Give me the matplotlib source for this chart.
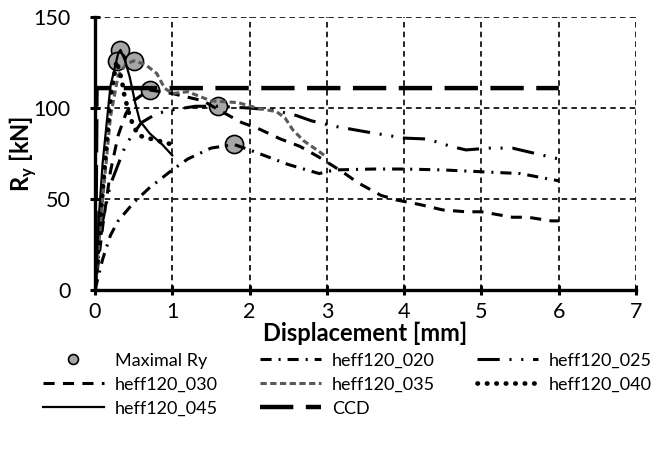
import matplotlib
matplotlib.use("Agg")
import matplotlib.pyplot as plt

plt.rcParams['font.family'] = ['Lato', 'DejaVu Sans']
plt.rcParams['mathtext.fontset'] = 'custom'
plt.rcParams['mathtext.rm'] = 'Lato'
plt.rcParams['mathtext.bf'] = 'Lato:bold'
plt.rcParams['lines.scale_dashes'] = False

# peak points
max_x = [0.33, 0.28, 0.50, 0.71, 1.59, 1.80]
max_y = [132, 126, 126, 110, 101, 80]

x020 = [0, 0.1, 0.2, 0.3, 0.5, 0.7, 1.0, 1.2, 1.5, 1.8, 2.0, 2.5, 2.9, 3.1, 3.6, 4.0, 4.5, 5.0, 5.5, 6.0]
y020 = [0, 17, 30, 38, 48, 56, 66, 72, 78, 80, 77, 69, 64, 66, 66.5, 66.5, 66, 65, 64, 60]

x025 = [0, 0.05, 0.1, 0.2, 0.4, 0.6, 0.8, 1.0, 1.3, 1.6, 2.0, 2.3, 2.6, 2.8, 3.1, 3.5, 4.0, 4.3,
        4.6, 4.8, 5.1, 5.4, 5.6, 5.9, 6.0]
y025 = [0, 20, 38, 58, 80, 92, 97, 99, 101, 101, 100, 99, 96, 93, 90, 87, 83.5, 83, 79, 77,
        78, 78, 76, 73, 72]

x030 = [0, 0.1, 0.2, 0.3, 0.4, 0.5, 0.7, 1.0, 1.4, 1.6, 1.9, 2.1, 2.4, 2.65, 2.9, 3.2, 3.4,
        3.7, 3.9, 4.2, 4.5, 4.8, 5.0, 5.4, 5.6, 5.9, 6.0]
y030 = [0, 35, 65, 85, 97, 104, 110, 108, 104, 99, 92, 89, 83, 79, 73, 65, 59, 52, 49.5, 47,
        44, 43, 43, 40, 40, 38, 38]

x035 = [0, 0.1, 0.2, 0.3, 0.4, 0.5, 0.65, 0.8, 0.9, 1.0, 1.2, 1.5, 1.85, 2.1, 2.35, 2.46,
        2.56, 2.7, 2.87, 3.0]
y035 = [0, 50, 95, 118, 124, 126, 124, 119, 111, 108, 109, 104, 103, 100, 98, 94.5, 88, 82,
        77, 73]

x040 = [0, 0.1, 0.2, 0.28, 0.35, 0.37, 0.44, 0.49, 0.56, 0.69, 0.82, 1.0]
y040 = [0, 55, 105, 126, 115, 109, 97, 91, 85, 83.5, 82, 80]

x045 = [0, 0.05, 0.1, 0.2, 0.3, 0.33, 0.39, 0.45, 0.52, 0.58, 0.71, 0.87, 1.0]
y045 = [0, 40, 70, 112, 130, 132, 126, 117, 103, 93, 86, 80, 74]

xccd = [0, 0.02, 6.0]
yccd = [0, 111, 111]

fig = plt.figure(figsize=(6.64, 4.51), dpi=100)
ax = fig.add_axes([0.143, 0.357, 0.815, 0.605])

h_max, = ax.plot(max_x, max_y, 'o', ms=13, mfc='#a6a6a6', mec='black', mew=1.2,
                 label='Maximal Ry', zorder=2)
h020, = ax.plot(x020, y020, color='black', lw=2.2, dashes=(8, 5, 1.5, 5), label='heff120_020', zorder=3)
h025, = ax.plot(x025, y025, color='black', lw=2.2, dashes=(16, 7, 1.5, 7, 1.5, 7), label='heff120_025', zorder=3)
h030, = ax.plot(x030, y030, color='black', lw=2.2, dashes=(8, 6), label='heff120_030', zorder=3)
h035, = ax.plot(x035, y035, color='#595959', lw=2.2, dashes=(4.5, 2.5), label='heff120_035', zorder=3)
h040, = ax.plot(x040, y040, color='black', lw=3.4, dashes=(0.3, 6.5), dash_capstyle='round',
                label='heff120_040', zorder=3)
h045, = ax.plot(x045, y045, color='black', lw=1.6, label='heff120_045', zorder=3)
hccd, = ax.plot(xccd, yccd, color='black', lw=3.2, dashes=(24, 9), label='CCD', zorder=3)

ax.set_xlim(0, 7)
ax.set_ylim(0, 150)
ax.set_xticks(range(0, 8))
ax.set_yticks([0, 50, 100, 150])
ax.grid(True, color='black', lw=1.2, linestyle=(0, (4, 3)))
ax.set_axisbelow(True)
for s in ['top', 'right']:
    ax.spines[s].set_visible(False)
for s in ['left', 'bottom']:
    ax.spines[s].set_linewidth(2.4)
ax.tick_params(direction='inout', length=7, width=2.2, labelsize=15.5)
ax.tick_params(axis='y', pad=14)
ax.tick_params(axis='x', pad=5)

ax.set_xlabel('Displacement [mm]', fontsize=17, fontweight='bold', labelpad=0)
ax.set_ylabel(r'R$_\mathbf{y}$ [kN]', fontsize=17, fontweight='bold', labelpad=-4)

# row-wise ordering for a 3-column legend
handles = [h_max, h030, h045, h020, h035, hccd, h025, h040]
fig.legend(handles, [h.get_label() for h in handles], ncol=3, loc='upper center',
           bbox_to_anchor=(0.523, 0.218), frameon=False, fontsize=13, handlelength=3.4,
           handletextpad=0.6, columnspacing=2.3, labelspacing=0.44, borderpad=0,
           borderaxespad=0, markerscale=0.55)

fig.savefig('out.png', dpi=100)
